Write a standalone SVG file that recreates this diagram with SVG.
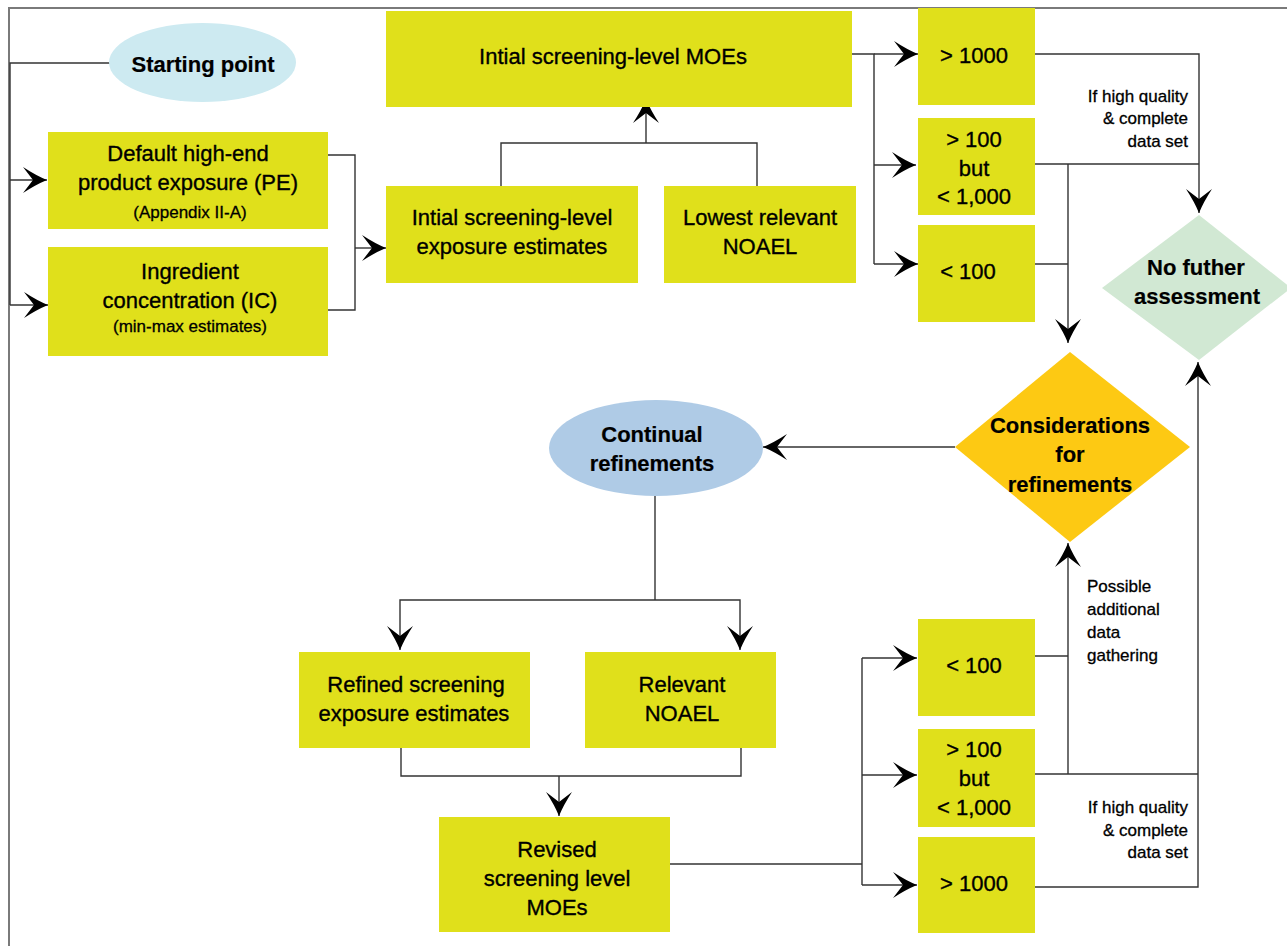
<svg xmlns="http://www.w3.org/2000/svg" width="1287" height="946" viewBox="0 0 1287 946">
  <style>
    .box { fill: #e0e01b; }
    .t { font-family: "Liberation Sans", Arial, sans-serif; font-size: 22px; fill: #000; stroke: #000; stroke-width: 0.35; text-anchor: middle; }
    .b { font-weight: bold; stroke-width: 0.2; }
    .s { font-family: "Liberation Sans", Arial, sans-serif; font-size: 17px; fill: #000; stroke: #000; stroke-width: 0.3; text-anchor: middle; }
    .n { font-family: "Liberation Sans", Arial, sans-serif; font-size: 17px; fill: #000; stroke: #000; stroke-width: 0.3; }
    .r { text-anchor: end; }
    .frame { fill: none; stroke: #7a7a7a; stroke-width: 2; }
    .link { fill: none; stroke: #333; stroke-width: 1.4; }
    .arrow { marker-end: url(#barb); }
  </style>
  <defs>
    <marker id="barb" markerWidth="26" markerHeight="28" refX="24" refY="13" orient="auto" markerUnits="userSpaceOnUse" viewBox="0 0 26 26" overflow="visible">
      <path d="M24,13 Q13,8.5 0,0 L10,13 L0,26 Q13,17.5 24,13 Z" fill="#000"/>
    </marker>
  </defs>

  <rect width="1287" height="946" fill="#fff"/>
  <!-- page frame -->
  <path class="frame" d="M1287,8 H9 V946"/>

  <!-- connectors -->
  <g id="connectors">
    <path class="link" d="M110,63 H10 V305"/>
    <path class="link arrow" d="M10,180 H47"/>
    <path class="link arrow" d="M10,305 H48"/>
    <path class="link" d="M328,155 H355 V310 H328"/>
    <path class="link arrow" d="M355,248 H386"/>
    <path class="link" d="M501,186 V143 H757 V186"/>
    <path class="link arrow" d="M646,143 V99"/>
    <path class="link" d="M852,54 H874 V264"/>
    <path class="link arrow" d="M874,54 H918"/>
    <path class="link arrow" d="M874,165 H916"/>
    <path class="link arrow" d="M874,264 H918"/>
    <path class="link arrow" d="M1035,54 H1199 V213"/>
    <path class="link" d="M1035,164 H1199"/>
    <path class="link arrow" d="M1068,164 V343"/>
    <path class="link" d="M1035,264 H1068"/>
    <path class="link arrow" d="M955,447 H763"/>
    <path class="link" d="M655,496 V600"/>
    <path class="link arrow" d="M655,600 H400 V650"/>
    <path class="link arrow" d="M655,600 H740 V650"/>
    <path class="link" d="M401,748 V776 H741 V748"/>
    <path class="link arrow" d="M559,776 V816"/>
    <path class="link" d="M670,864 H862"/>
    <path class="link" d="M862,658 V885"/>
    <path class="link arrow" d="M862,658 H917"/>
    <path class="link arrow" d="M862,775 H917"/>
    <path class="link arrow" d="M862,885 H917"/>
    <path class="link" d="M1035,656 H1068"/>
    <path class="link" d="M1035,774 H1198"/>
    <path class="link arrow" d="M1068,774 V543"/>
    <path class="link arrow" d="M1035,887 H1198 V362"/>
  </g>

  <!-- edge notes -->
  <g id="notes">
    <text class="n r" x="1188" y="102">If high quality</text>
    <text class="n r" x="1188" y="124">&amp; complete</text>
    <text class="n r" x="1188" y="147">data set</text>
    <text class="n" x="1087" y="592">Possible</text>
    <text class="n" x="1087" y="615">additional</text>
    <text class="n" x="1087" y="638">data</text>
    <text class="n" x="1087" y="661">gathering</text>
    <text class="n r" x="1188" y="813">If high quality</text>
    <text class="n r" x="1188" y="836">&amp; complete</text>
    <text class="n r" x="1188" y="858">data set</text>
  </g>

  <g id="starting-point">
    <ellipse cx="202.5" cy="62.5" rx="93.5" ry="39.5" fill="#cdeaf1"/>
    <text class="t b" x="203" y="72">Starting point</text>
  </g>

  <g id="default-pe">
    <rect class="box" x="48" y="132" width="280" height="97"/>
    <text class="t" x="188" y="161">Default high-end</text>
    <text class="t" x="188" y="190">product exposure (PE)</text>
    <text class="s" x="190" y="218">(Appendix II-A)</text>
  </g>

  <g id="ingredient-ic">
    <rect class="box" x="48" y="247" width="280" height="109"/>
    <text class="t" x="190" y="279">Ingredient</text>
    <text class="t" x="190" y="308">concentration (IC)</text>
    <text class="s" x="190" y="332">(min-max estimates)</text>
  </g>

  <g id="initial-exposure">
    <rect class="box" x="386" y="186" width="252" height="97"/>
    <text class="t" x="512" y="225">Intial screening-level</text>
    <text class="t" x="512" y="254">exposure estimates</text>
  </g>

  <g id="lowest-noael">
    <rect class="box" x="664" y="186" width="192" height="97"/>
    <text class="t" x="760" y="225">Lowest relevant</text>
    <text class="t" x="760" y="254">NOAEL</text>
  </g>

  <g id="initial-moes">
    <rect class="box" x="386" y="11" width="466" height="96"/>
    <text class="t" x="613" y="64">Intial screening-level MOEs</text>
  </g>

  <g id="moe-over-1000">
    <rect class="box" x="918" y="8" width="117" height="97"/>
    <text class="t" x="974" y="63">&gt; 1000</text>
  </g>

  <g id="moe-100-1000">
    <rect class="box" x="918" y="118" width="117" height="97"/>
    <text class="t" x="974" y="147">&gt; 100</text>
    <text class="t" x="974" y="176">but</text>
    <text class="t" x="974" y="204">&lt; 1,000</text>
  </g>

  <g id="moe-under-100">
    <rect class="box" x="918" y="225" width="117" height="97"/>
    <text class="t" x="968" y="279">&lt; 100</text>
  </g>

  <g id="no-further">
    <polygon points="1199,215 1291,288 1199,360 1102,288" fill="#d1e8d3"/>
    <text class="t b" x="1196" y="275">No futher</text>
    <text class="t b" x="1197" y="304">assessment</text>
  </g>

  <g id="considerations">
    <polygon points="1070,352 1190,447 1070,542 955,447" fill="#fdc913"/>
    <text class="t b" x="1070" y="433">Considerations</text>
    <text class="t b" x="1070" y="462">for</text>
    <text class="t b" x="1070" y="492">refinements</text>
  </g>

  <g id="continual">
    <ellipse cx="656" cy="448" rx="107" ry="48" fill="#afcbe6"/>
    <text class="t b" x="652" y="442">Continual</text>
    <text class="t b" x="652" y="471">refinements</text>
  </g>

  <g id="refined-exposure">
    <rect class="box" x="299" y="652" width="231" height="96"/>
    <text class="t" x="416" y="692">Refined screening</text>
    <text class="t" x="414" y="721">exposure estimates</text>
  </g>

  <g id="relevant-noael">
    <rect class="box" x="585" y="652" width="191" height="96"/>
    <text class="t" x="682" y="692">Relevant</text>
    <text class="t" x="682" y="721">NOAEL</text>
  </g>

  <g id="revised-moes">
    <rect class="box" x="439" y="817" width="231" height="115"/>
    <text class="t" x="557" y="857">Revised</text>
    <text class="t" x="557" y="886">screening level</text>
    <text class="t" x="557" y="915">MOEs</text>
  </g>

  <g id="rev-under-100">
    <rect class="box" x="918" y="619" width="117" height="97"/>
    <text class="t" x="974" y="673">&lt; 100</text>
  </g>

  <g id="rev-100-1000">
    <rect class="box" x="918" y="729" width="117" height="98"/>
    <text class="t" x="974" y="757">&gt; 100</text>
    <text class="t" x="974" y="786">but</text>
    <text class="t" x="974" y="815">&lt; 1,000</text>
  </g>

  <g id="rev-over-1000">
    <rect class="box" x="918" y="837" width="117" height="96"/>
    <text class="t" x="974" y="891">&gt; 1000</text>
  </g>
</svg>
